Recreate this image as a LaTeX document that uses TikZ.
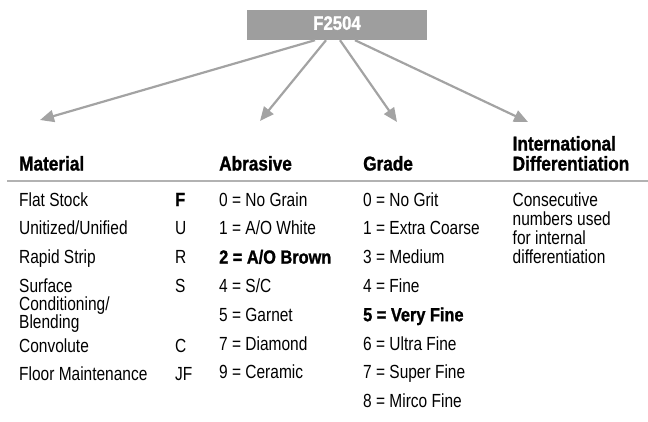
\documentclass[tikz,border=0pt]{standalone}
\usepackage{fontspec}
\setmainfont{Liberation Sans}[FakeStretch=0.815,BoldFeatures={FakeStretch=0.86,FakeBold=1.2}]
\usetikzlibrary{arrows.meta}
\definecolor{boxgray}{RGB}{158,158,158}
\definecolor{arrgray}{RGB}{163,163,163}
\definecolor{rulegray}{RGB}{178,178,178}
\tikzset{
  body/.style={anchor=base west, inner sep=0pt, font=\fontsize{19}{19}\selectfont},
  bodyb/.style={anchor=base west, inner sep=0pt, font=\fontsize{19}{19}\selectfont\bfseries},
  head/.style={anchor=base west, inner sep=0pt, font=\fontsize{20}{20}\selectfont\bfseries},
  conn/.style={draw=arrgray, line width=2.2pt, -{Triangle[length=14pt,width=12pt]}},
  codebox/.style={fill=boxgray, minimum width=180pt, minimum height=30pt, inner sep=0pt,
    text=white, text depth=4pt, font=\fontsize{19.5}{20}\selectfont\bfseries},
}
\begin{document}
\begin{tikzpicture}[x=1pt,y=-1pt]
\useasboundingbox (0,0) rectangle (648,421);
% top code box
\node[codebox] (code) at (337,25) {F2504};
% arrow start and end points
\coordinate (s1) at ([xshift=-22pt]code.south);
\coordinate (s2) at ([xshift=-11pt]code.south);
\coordinate (s3) at ([xshift=3pt]code.south);
\coordinate (s4) at ([xshift=18pt]code.south);
\coordinate (t1) at (40,120);
\coordinate (t2) at (260,121);
\coordinate (t3) at (397,122);
\coordinate (t4) at (528,122);
\draw[conn] (s1) -- (t1);
\draw[conn] (s2) -- (t2);
\draw[conn] (s3) -- (t3);
\draw[conn] (s4) -- (t4);
% headers
\node[head] (hm) at (19,170.5) {Material};
\node[head] (ha) at (219,170.5) {Abrasive};
\node[head] (hg) at (363,170.5) {Grade};
\node[head] (hi1) at (512.5,150.5) {International};
\node[head] (hi2) at (512.5,170.5) {Differentiation};
% rule
\coordinate (rl) at (7,181);
\coordinate (rr) at (648,181);
\draw[rulegray, line width=1.2pt] (rl) -- (rr);
% material column
\node[body] (m1) at (19,206) {Flat Stock};
\node[bodyb] (l1) at (175,206) {F};
\node[body] (m2) at (19,234.8) {Unitized/Unified};
\node[body] (l2) at (175,234.8) {U};
\node[body] (m3) at (19,263.6) {Rapid Strip};
\node[body] (l3) at (175,263.6) {R};
\node[body] (m4a) at (19,292.4) {Surface};
\node[body] (l4) at (175,292.4) {S};
\node[body] (m4b) at (19,310.4) {Conditioning/};
\node[body] (m4c) at (19,328.4) {Blending};
\node[body] (m5) at (19,352) {Convolute};
\node[body] (l5) at (175,352) {C};
\node[body] (m6) at (19,380.5) {Floor Maintenance};
\node[body] (l6) at (175,380.5) {JF};
% abrasive column
\node[body] (a1) at (219,206) {0 = No Grain};
\node[body] (a2) at (219,234.8) {1 = A/O White};
\node[bodyb] (a3) at (219,263.6) {2 = A/O Brown};
\node[body] (a4) at (219,292.4) {4 = S/C};
\node[body] (a5) at (219,321.2) {5 = Garnet};
\node[body] (a6) at (219,350) {7 = Diamond};
\node[body] (a7) at (219,378.8) {9 = Ceramic};
% grade column
\node[body] (g1) at (363,206) {0 = No Grit};
\node[body] (g2) at (363,234.8) {1 = Extra Coarse};
\node[body] (g3) at (363,263.6) {3 = Medium};
\node[body] (g4) at (363,292.4) {4 = Fine};
\node[bodyb] (g5) at (363,321.2) {5 = Very Fine};
\node[body] (g6) at (363,350) {6 = Ultra Fine};
\node[body] (g7) at (363,378.8) {7 = Super Fine};
\node[body] (g8) at (363,407.6) {8 = Mirco Fine};
% international differentiation column
\node[body] (i1) at (512.5,206) {Consecutive};
\node[body] (i2) at (512.5,225) {numbers used};
\node[body] (i3) at (512.5,244) {for internal};
\node[body] (i4) at (512.5,263) {differentiation};
\end{tikzpicture}
\end{document}
